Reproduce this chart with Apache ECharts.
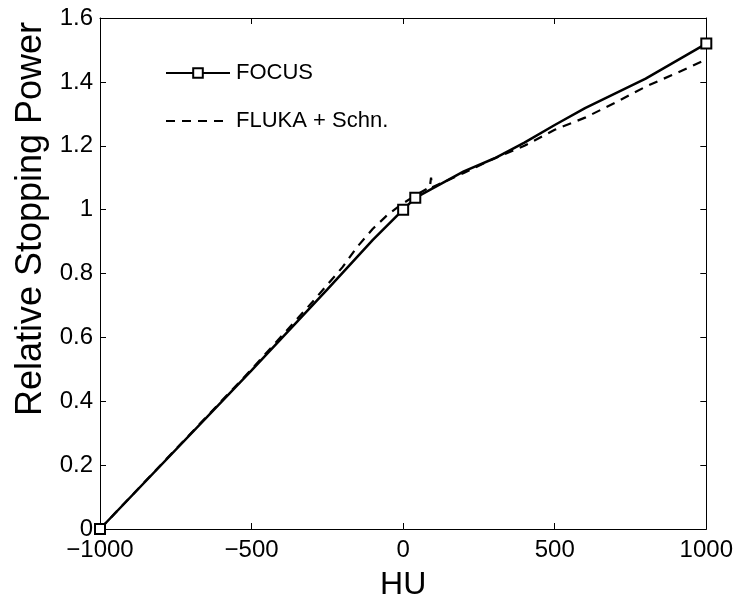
<!DOCTYPE html>
<html>
<head>
<meta charset="utf-8">
<script src="https://cdn.jsdelivr.net/npm/echarts@6/dist/echarts.min.js"></script>
<style>html,body{margin:0;padding:0;background:#fff}#c{width:736px;height:606px}</style>
</head>
<body>
<div id="c"></div>
<script>
// Data (HU, relative stopping power)
var focusHU   = [-1000, -500, -250, -100, 0, 40, 200, 300, 400, 500, 600, 800, 1000];
var focusRSP  = [0, 0.497, 0.75, 0.905, 1.0, 1.037, 1.12, 1.16, 1.21, 1.265, 1.318, 1.41, 1.52];
var focusMarked = [true, false, false, false, true, true, false, false, false, false, false, false, true];

var flukaHU  = [-1000, -500, -300, -200, -150, -100, -50, 0, 50, 88, 92, 96, 200, 300, 400, 500, 600, 700, 800, 900, 1000];
var flukaRSP = [0, 0.5, 0.71, 0.82, 0.885, 0.94, 0.985, 1.02, 1.05, 1.07, 1.10, 1.07, 1.115, 1.16, 1.20, 1.25, 1.288, 1.335, 1.385, 1.427, 1.47];

var xTicks = [-1000, -500, 0, 500, 1000];
var yTicks = [0, 0.2, 0.4, 0.6, 0.8, 1, 1.2, 1.4, 1.6];

var seriesNames = ['FOCUS', 'FLUKA + Schn.'];
var xName = 'HU';
var yName = 'Relative Stopping Power';
var font = 'Liberation Sans, Arial, Helvetica, sans-serif';

var focusData = focusHU.map(function (h, i) {
  return focusMarked[i] ? { value: [h, focusRSP[i]] } : { value: [h, focusRSP[i]], symbol: 'none' };
});
var flukaData = flukaHU.map(function (h, i) { return [h, flukaRSP[i]]; });

var chart = echarts.init(document.getElementById('c'), null, { renderer: 'canvas' });
function axisCommon() {
  return {
    axisLine: { show: true, onZero: false, lineStyle: { color: '#000', width: 1 } },
    axisTick: { show: true, inside: true, length: 6, lineStyle: { color: '#000' } },
    splitLine: { show: false }
  };
}
chart.setOption({
  animation: false,
  backgroundColor: '#fff',
  grid: { left: 100, right: 27, top: 18, bottom: 73, containLabel: false },
  legend: {
    left: 160, top: 57, orient: 'vertical', itemGap: 26,
    itemWidth: 64, itemHeight: 12,
    textStyle: { fontFamily: font, fontSize: 22, color: '#000', padding: [0, 0, 0, 1] },
    data: [
      { name: seriesNames[0] },
      { name: seriesNames[1], itemStyle: { opacity: 0 } }
    ]
  },
  graphic: [{
    type: 'text', x: 31, y: 219, rotation: Math.PI / 2,
    style: { text: yName, fontFamily: font, fontSize: 36, fill: '#000', align: 'center', verticalAlign: 'middle' }
  }],
  xAxis: [
    Object.assign(axisCommon(), {
      type: 'value', min: -1000, max: 1000, interval: 500, position: 'bottom',
      name: xName, nameLocation: 'middle', nameGap: 40,
      nameTextStyle: { fontFamily: font, fontSize: 32, color: '#000' },
      axisLabel: { fontFamily: font, fontSize: 24, color: '#000', margin: 9,
        formatter: function (v) { return String(v).replace('-', '\u2212'); } }
    }),
    Object.assign(axisCommon(), {
      type: 'value', min: -1000, max: 1000, interval: 500, position: 'top',
      axisLabel: { show: false }
    })
  ],
  yAxis: [
    Object.assign(axisCommon(), {
      type: 'value', min: 0, max: 1.6, interval: 0.2, position: 'left',
      axisLabel: { fontFamily: font, fontSize: 24, color: '#000', margin: 7,
        formatter: function (v) { return String(Math.round(v * 10) / 10); } }
    }),
    Object.assign(axisCommon(), {
      type: 'value', min: 0, max: 1.6, interval: 0.2, position: 'right',
      axisLabel: { show: false }
    })
  ],
  series: [
    {
      name: seriesNames[0], type: 'line', data: focusData,
      symbol: 'rect', symbolSize: 10, showSymbol: true,
      lineStyle: { color: '#000', width: 2.5, type: 'solid' },
      itemStyle: { color: '#fff', borderColor: '#000', borderWidth: 2 },
      z: 3
    },
    {
      name: seriesNames[1], type: 'line', data: flukaData,
      symbol: 'none', showSymbol: false,
      lineStyle: { color: '#000', width: 2.2, type: [9, 7] },
      itemStyle: { color: '#000' },
      z: 2
    }
  ]
});
</script>
</body>
</html>
